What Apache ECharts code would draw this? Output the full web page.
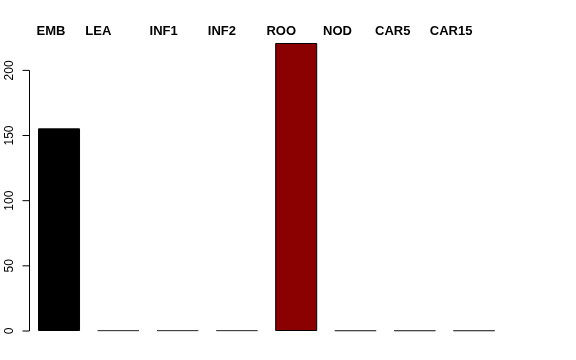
<!DOCTYPE html>
<html><head><meta charset="utf-8">
<script src="https://cdn.jsdelivr.net/npm/echarts@6/dist/echarts.min.js"></script>
<style>html,body{margin:0;padding:0;background:#fff}#c{width:576px;height:360px}</style>
</head><body><div id="c"></div>
<script>
const categories = ['EMB','LEA','INF1','INF2','ROO','NOD','CAR5','CAR15'];
const values = [155.5, 0.6, 0.6, 0.6, 221, 0.5, 0.5, 0.5];
const barColors = ['#000000','#6b5a5a','#4f6b4f','#5f5f66','#8b0000','#66666e','#66666e','#66666e'];
const yTicks = [0, 50, 100, 150, 200];
// label shift (px) from bar centre, as drawn in the reference
const labelShift = [-8, -20, -14, -15, -15, -18, -22, -23];

const chart = echarts.init(document.getElementById('c'), null, {renderer:'canvas'});
const font = 'Liberation Sans, Arial, Helvetica, sans-serif';
chart.setOption({
  animation: false,
  grid: {left: 29.4, right: 72.3, top: 43, bottom: 29},
  xAxis: {
    type: 'category', position: 'top',
    data: categories.map((c, i) => ({value: c, textStyle: {padding: [0, -2 * labelShift[i], 0, 0]}})),
    axisLine: {show: false}, axisTick: {show: false},
    axisLabel: {fontFamily: font, fontWeight: 'bold', fontSize: 13, color: '#000', margin: 5, interval: 0}
  },
  yAxis: {
    type: 'value', min: 0, max: 221, interval: 50,
    splitLine: {show: false},
    axisLine: {show: false},
    axisTick: {show: false},
    axisLabel: {show: false}
  },
  series: [{
    type: 'bar', barWidth: 42,
    data: values.map((v, i) => ({value: v, itemStyle: {color: barColors[i], borderColor: v < 5 ? '#444' : '#000'}})),
    itemStyle: {borderWidth: 1}
  }]
});

// R-style y axis (0..200) drawn through the library's scale
const axisX = 29.5;
const yTop = chart.convertToPixel({yAxisIndex: 0}, yTicks[yTicks.length - 1]);
const yBot = chart.convertToPixel({yAxisIndex: 0}, yTicks[0]);
const elems = [{
  type: 'line', shape: {x1: axisX, y1: yTop, x2: axisX, y2: yBot},
  style: {stroke: '#000', lineWidth: 1}
}];
yTicks.forEach(t => {
  const y = chart.convertToPixel({yAxisIndex: 0}, t);
  elems.push({type: 'line', shape: {x1: axisX - 7, y1: y, x2: axisX, y2: y}, style: {stroke: '#000', lineWidth: 1}});
  elems.push({type: 'text', x: 10, y: y, rotation: Math.PI / 2,
    style: {text: String(t), fontFamily: font, fontSize: 12, fill: '#000', align: 'center', verticalAlign: 'middle'}});
});
chart.setOption({graphic: elems});
</script></body></html>
